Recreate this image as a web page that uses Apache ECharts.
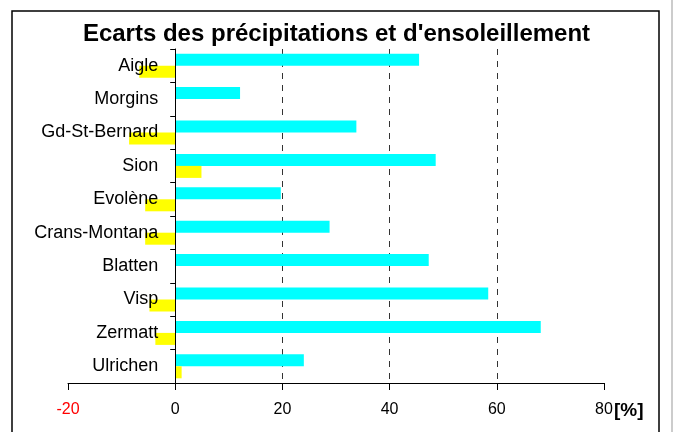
<!DOCTYPE html>
<html>
<head>
<meta charset="utf-8">
<title>Ecarts des précipitations et d'ensoleillement</title>
<script src="https://cdn.jsdelivr.net/npm/echarts@6/dist/echarts.min.js"></script>
<style>
  html, body { margin: 0; padding: 0; background: #fff; }
  #chart { width: 673px; height: 432px; }
</style>
</head>
<body>
<div id="chart"></div>
<script>
const FONT = '"Liberation Sans", Arial, sans-serif';
const WIDTH = 673;
const GRID_LEFT = 68;
const GRID_RIGHT = 69;

const STATIONS = [ 'Aigle', 'Morgins', 'Gd-St-Bernard', 'Sion', 'Evolène', 'Crans-Montana', 'Blatten', 'Visp', 'Zermatt', 'Ulrichen' ];
const PRECIPITATIONS = [ 45.5, 12.1, 33.8, 48.6, 19.7, 28.8, 47.3, 58.4, 68.2, 24.0 ];
const ENSOLEILLEMENT = [ -6.7, 0, -8.6, 4.9, -5.6, -5.6, 0, -4.8, -3.7, 1.2 ];
const X_TICKS = [ -20, 0, 20, 40, 60, 80 ];

let xMin = X_TICKS[0];
let xMax = X_TICKS[X_TICKS.length - 1];
// category axis sits on the zero line, labels included
let zeroShift = (0 - xMin) / (xMax - xMin) * (WIDTH - GRID_LEFT - GRID_RIGHT);

let chart = echarts.init(document.querySelector('#chart'), null, { renderer: 'canvas' });

chart.setOption({
  animation: false,
  backgroundColor: '#fff',
  title: {
    text: 'Ecarts des précipitations et d\'ensoleillement',
    left: 'center',
    top: 17,
    textStyle: { fontFamily: FONT, fontSize: 24, fontWeight: 'bold', color: '#000' }
  },
  grid: { left: GRID_LEFT, right: GRID_RIGHT, top: 49, bottom: 49, containLabel: false, outerBoundsMode: 'none' },
  xAxis: {
    type: 'value',
    min: xMin,
    max: xMax,
    interval: 20,
    axisLine: { show: true, onZero: false, lineStyle: { color: '#000', width: 1 } },
    axisTick: { show: true, length: 7, lineStyle: { color: '#000' } },
    axisLabel: {
      margin: 19,
      fontFamily: FONT,
      fontSize: 16,
      color: value => value < 0 ? '#ff0000' : '#000'
    },
    splitLine: {
      show: true,
      showMinLine: false,
      showMaxLine: false,
      lineStyle: { color: '#333', type: [ 6, 6 ], width: 1 }
    }
  },
  yAxis: {
    type: 'category',
    inverse: true,
    data: STATIONS,
    offset: -zeroShift,
    z: 5,
    axisLine: { show: true, onZero: false, lineStyle: { color: '#000', width: 1 } },
    axisTick: { show: true, length: 5, lineStyle: { color: '#000' } },
    axisLabel: { margin: 17, fontFamily: FONT, fontSize: 18, color: '#000', padding: [ 0, 0, 3, 0 ] },
    splitLine: { show: false }
  },
  series: [
    {
      name: 'Précipitations',
      type: 'bar',
      data: PRECIPITATIONS,
      barWidth: 12,
      barGap: '0%',
      itemStyle: { color: '#00ffff' }
    },
    {
      name: 'Ensoleillement',
      type: 'bar',
      data: ENSOLEILLEMENT,
      barWidth: 12,
      barGap: '0%',
      itemStyle: { color: '#ffff00' }
    }
  ],
  graphic: [
    {
      type: 'rect',
      shape: { x: 12, y: 11, width: 647, height: 440 },
      style: { fill: null, stroke: '#000', lineWidth: 1.5 },
      silent: true
    },
    {
      type: 'line',
      shape: { x1: 672, y1: 0, x2: 672, y2: 432 },
      style: { stroke: '#bbb', lineWidth: 1.5 },
      silent: true
    },
    {
      type: 'text',
      x: 614,
      y: 411,
      style: {
        text: '[%]',
        fontFamily: FONT,
        fontSize: 19,
        fontWeight: 'bold',
        fill: '#000',
        verticalAlign: 'middle'
      }
    }
  ]
});
</script>
</body>
</html>
